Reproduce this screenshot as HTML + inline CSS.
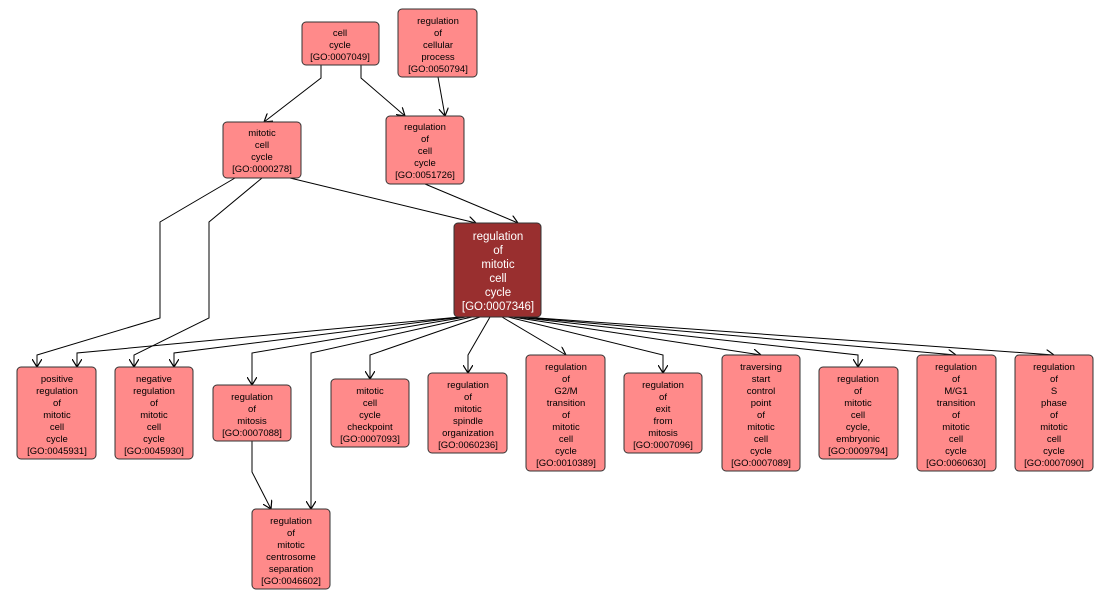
<!DOCTYPE html>
<html><head><meta charset="utf-8"><style>
body{margin:0;background:#fff;width:1113px;height:600px;overflow:hidden}
svg{display:block}
text{font-family:"Liberation Sans",sans-serif;font-size:9.5px;fill:#000;text-anchor:middle}
.n{fill:#ff8a8a;stroke:#333;stroke-width:1}
.e{fill:none;stroke:#000;stroke-width:1}
</style></head><body>
<svg width="1113" height="600" viewBox="0 0 1113 600">
<defs><marker id="a" markerWidth="10" markerHeight="10" refX="8" refY="5" orient="auto" markerUnits="userSpaceOnUse"><path d="M0,0 L8,5 L0,10" fill="none" stroke="#000" stroke-width="1.2"/></marker></defs>
<g class="e" marker-end="url(#a)">
<polyline points="321,65 321,78 264,122"/>
<polyline points="361,65 361,78 405,116"/>
<polyline points="438,77 445,116"/>
<polyline points="290,178 476,223"/>
<polyline points="425,184 518,223"/>
<polyline points="235,178 160,222 160,318 37,355 37,367"/>
<polyline points="262,178 209,222 209,318 134,355 134,367"/>
<polyline points="460,317 77,353 77,367"/>
<polyline points="462,317 174,353 174,367"/>
<polyline points="466,317 252,353 252,385"/>
<polyline points="472,317 311,353 311,509"/>
<polyline points="252,441 252,472 271,509"/>
<polyline points="480,317 370,355 370,379"/>
<polyline points="490,317 468,355 468,373"/>
<polyline points="502,317 566,355"/>
<polyline points="508,317 663,355 663,373"/>
<polyline points="512,317 761,355"/>
<polyline points="516,317 858,355 858,367"/>
<polyline points="520,317 956,355"/>
<polyline points="524,317 1054,355"/>
</g>
<rect class="n" x="302" y="22" width="77" height="43" rx="4"/>
<text x="340" y="36">cell<tspan x="340" dy="12">cycle</tspan><tspan x="340" dy="12">[GO:0007049]</tspan></text>
<rect class="n" x="398" y="9" width="79" height="68" rx="4"/>
<text x="438" y="24">regulation<tspan x="438" dy="12">of</tspan><tspan x="438" dy="12">cellular</tspan><tspan x="438" dy="12">process</tspan><tspan x="438" dy="12">[GO:0050794]</tspan></text>
<rect class="n" x="223" y="122" width="78" height="56" rx="4"/>
<text x="262" y="136">mitotic<tspan x="262" dy="12">cell</tspan><tspan x="262" dy="12">cycle</tspan><tspan x="262" dy="12">[GO:0000278]</tspan></text>
<rect class="n" x="386" y="116" width="78" height="68" rx="4"/>
<text x="425" y="130">regulation<tspan x="425" dy="12">of</tspan><tspan x="425" dy="12">cell</tspan><tspan x="425" dy="12">cycle</tspan><tspan x="425" dy="12">[GO:0051726]</tspan></text>
<rect x="454" y="223" width="87" height="94" rx="4" fill="#992f2f" stroke="#333"/>
<text x="498" y="240" style="fill:#fff;font-size:11.5px">regulation<tspan x="498" dy="14">of</tspan><tspan x="498" dy="14">mitotic</tspan><tspan x="498" dy="14">cell</tspan><tspan x="498" dy="14">cycle</tspan><tspan x="498" dy="14">[GO:0007346]</tspan></text>
<rect class="n" x="17" y="367" width="79" height="92" rx="4"/>
<text x="57" y="382">positive<tspan x="57" dy="12">regulation</tspan><tspan x="57" dy="12">of</tspan><tspan x="57" dy="12">mitotic</tspan><tspan x="57" dy="12">cell</tspan><tspan x="57" dy="12">cycle</tspan><tspan x="57" dy="12">[GO:0045931]</tspan></text>
<rect class="n" x="115" y="367" width="78" height="92" rx="4"/>
<text x="154" y="382">negative<tspan x="154" dy="12">regulation</tspan><tspan x="154" dy="12">of</tspan><tspan x="154" dy="12">mitotic</tspan><tspan x="154" dy="12">cell</tspan><tspan x="154" dy="12">cycle</tspan><tspan x="154" dy="12">[GO:0045930]</tspan></text>
<rect class="n" x="213" y="385" width="78" height="56" rx="4"/>
<text x="252" y="400">regulation<tspan x="252" dy="12">of</tspan><tspan x="252" dy="12">mitosis</tspan><tspan x="252" dy="12">[GO:0007088]</tspan></text>
<rect class="n" x="252" y="509" width="78" height="80" rx="4"/>
<text x="291" y="524">regulation<tspan x="291" dy="12">of</tspan><tspan x="291" dy="12">mitotic</tspan><tspan x="291" dy="12">centrosome</tspan><tspan x="291" dy="12">separation</tspan><tspan x="291" dy="12">[GO:0046602]</tspan></text>
<rect class="n" x="331" y="379" width="78" height="68" rx="4"/>
<text x="370" y="394">mitotic<tspan x="370" dy="12">cell</tspan><tspan x="370" dy="12">cycle</tspan><tspan x="370" dy="12">checkpoint</tspan><tspan x="370" dy="12">[GO:0007093]</tspan></text>
<rect class="n" x="428" y="373" width="79" height="80" rx="4"/>
<text x="468" y="388">regulation<tspan x="468" dy="12">of</tspan><tspan x="468" dy="12">mitotic</tspan><tspan x="468" dy="12">spindle</tspan><tspan x="468" dy="12">organization</tspan><tspan x="468" dy="12">[GO:0060236]</tspan></text>
<rect class="n" x="526" y="355" width="79" height="116" rx="4"/>
<text x="566" y="370">regulation<tspan x="566" dy="12">of</tspan><tspan x="566" dy="12">G2/M</tspan><tspan x="566" dy="12">transition</tspan><tspan x="566" dy="12">of</tspan><tspan x="566" dy="12">mitotic</tspan><tspan x="566" dy="12">cell</tspan><tspan x="566" dy="12">cycle</tspan><tspan x="566" dy="12">[GO:0010389]</tspan></text>
<rect class="n" x="624" y="373" width="78" height="80" rx="4"/>
<text x="663" y="388">regulation<tspan x="663" dy="12">of</tspan><tspan x="663" dy="12">exit</tspan><tspan x="663" dy="12">from</tspan><tspan x="663" dy="12">mitosis</tspan><tspan x="663" dy="12">[GO:0007096]</tspan></text>
<rect class="n" x="722" y="355" width="78" height="116" rx="4"/>
<text x="761" y="370">traversing<tspan x="761" dy="12">start</tspan><tspan x="761" dy="12">control</tspan><tspan x="761" dy="12">point</tspan><tspan x="761" dy="12">of</tspan><tspan x="761" dy="12">mitotic</tspan><tspan x="761" dy="12">cell</tspan><tspan x="761" dy="12">cycle</tspan><tspan x="761" dy="12">[GO:0007089]</tspan></text>
<rect class="n" x="819" y="367" width="79" height="92" rx="4"/>
<text x="858" y="382">regulation<tspan x="858" dy="12">of</tspan><tspan x="858" dy="12">mitotic</tspan><tspan x="858" dy="12">cell</tspan><tspan x="858" dy="12">cycle,</tspan><tspan x="858" dy="12">embryonic</tspan><tspan x="858" dy="12">[GO:0009794]</tspan></text>
<rect class="n" x="917" y="355" width="79" height="116" rx="4"/>
<text x="956" y="370">regulation<tspan x="956" dy="12">of</tspan><tspan x="956" dy="12">M/G1</tspan><tspan x="956" dy="12">transition</tspan><tspan x="956" dy="12">of</tspan><tspan x="956" dy="12">mitotic</tspan><tspan x="956" dy="12">cell</tspan><tspan x="956" dy="12">cycle</tspan><tspan x="956" dy="12">[GO:0060630]</tspan></text>
<rect class="n" x="1015" y="355" width="78" height="116" rx="4"/>
<text x="1054" y="370">regulation<tspan x="1054" dy="12">of</tspan><tspan x="1054" dy="12">S</tspan><tspan x="1054" dy="12">phase</tspan><tspan x="1054" dy="12">of</tspan><tspan x="1054" dy="12">mitotic</tspan><tspan x="1054" dy="12">cell</tspan><tspan x="1054" dy="12">cycle</tspan><tspan x="1054" dy="12">[GO:0007090]</tspan></text>
</svg>
</body></html>
